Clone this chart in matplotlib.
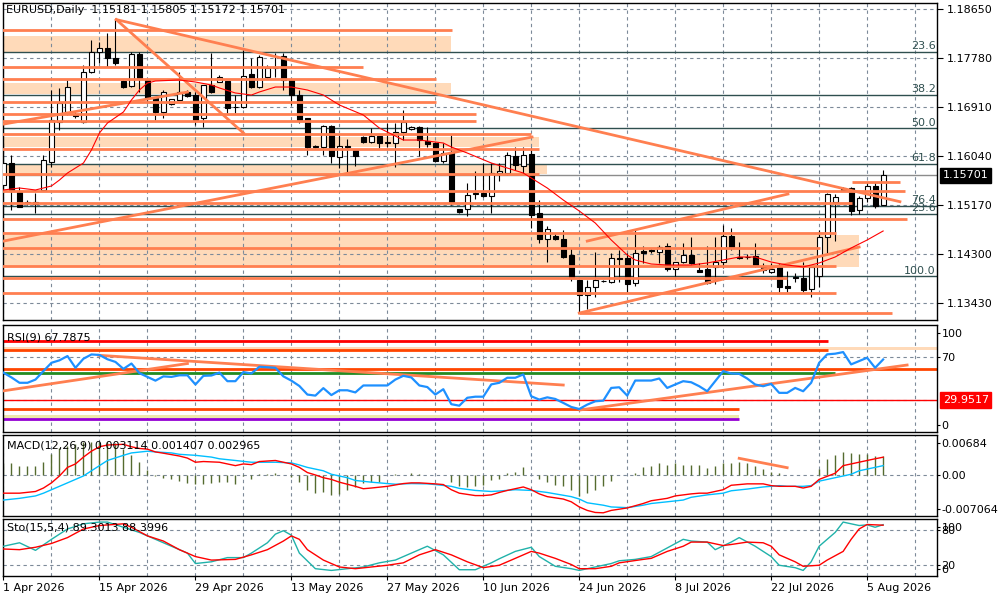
import matplotlib
matplotlib.use("Agg")
import matplotlib.pyplot as plt
from matplotlib.transforms import blended_transform_factory

plt.rcParams['font.family'] = ['DejaVu Sans']

# daily bars, index 0 = 1 Apr 2026 (six bars per week)
opens = [
    1.1553, 1.1592, 1.1540, 1.1521, 1.1520, 1.1544, 1.1594, 1.1665, 1.1683, 1.1678,
    1.1665, 1.1754, 1.1789, 1.1796, 1.1778, 1.1738, 1.1729, 1.1786, 1.1739, 1.1707,
    1.1683, 1.1697, 1.1704, 1.1718, 1.1713, 1.1672, 1.1731, 1.1736, 1.1738, 1.1692,
    1.1692, 1.1750, 1.1727, 1.1745, 1.1761, 1.1782, 1.1739, 1.1713, 1.1672, 1.1622,
    1.1620, 1.1658, 1.1603, 1.1622, 1.1615, 1.1638, 1.1629, 1.1640, 1.1630, 1.1627,
    1.1648, 1.1652, 1.1656, 1.1631, 1.1627, 1.1596, 1.1612, 1.1510, 1.1510, 1.1537,
    1.1539, 1.1534, 1.1575, 1.1574, 1.1604, 1.1587, 1.1608, 1.1503, 1.1457, 1.1462,
    1.1457, 1.1429, 1.1384, 1.1358, 1.1372, 1.1382, 1.1381, 1.1423, 1.1423, 1.1379,
    1.1436, 1.1436, 1.1434, 1.1445, 1.1404, 1.1416, 1.1429, 1.1402, 1.1404, 1.1407,
    1.1416, 1.1462, 1.1425, 1.1425, 1.1427, 1.1409, 1.1398, 1.1407, 1.1373, 1.1390,
    1.1388, 1.1368, 1.1391, 1.1461, 1.1523, 1.1547, 1.1547, 1.1509, 1.1530, 1.1551, 1.15181,
]
highs = [
    1.1628, 1.1606, 1.1549, 1.1526, 1.1538, 1.1606, 1.1722, 1.1725, 1.1739, 1.1683,
    1.1766, 1.1811, 1.1807, 1.1823, 1.1847, 1.1740, 1.1789, 1.1789, 1.1739, 1.1709,
    1.1722, 1.1706, 1.1754, 1.1722, 1.1718, 1.1731, 1.1787, 1.1748, 1.1738, 1.1713,
    1.1793, 1.1778, 1.1784, 1.1766, 1.1787, 1.1787, 1.1739, 1.1722, 1.1672, 1.1624,
    1.1659, 1.1659, 1.1642, 1.1635, 1.1615, 1.1640, 1.1654, 1.1640, 1.1663, 1.1663,
    1.1686, 1.1657, 1.1658, 1.1656, 1.1629, 1.1627, 1.1642, 1.1511, 1.1556, 1.1578,
    1.1592, 1.1592, 1.1592, 1.1611, 1.1620, 1.1620, 1.1620, 1.1526, 1.1480, 1.1467,
    1.1473, 1.1441, 1.1384, 1.1384, 1.1434, 1.1385, 1.1432, 1.1437, 1.1432, 1.1473,
    1.1445, 1.1441, 1.1446, 1.1450, 1.1416, 1.1450, 1.1461, 1.1414, 1.1445, 1.1461,
    1.1482, 1.1477, 1.1452, 1.1430, 1.1450, 1.1414, 1.1414, 1.1414, 1.1400, 1.1396,
    1.1416, 1.1407, 1.1473, 1.1539, 1.1537, 1.1549, 1.1549, 1.1533, 1.1559, 1.1559, 1.15805,
]
lows = [
    1.1553, 1.1509, 1.1514, 1.1517, 1.1503, 1.1544, 1.1585, 1.1651, 1.1677, 1.1672,
    1.1663, 1.1752, 1.1770, 1.1763, 1.1766, 1.1725, 1.1727, 1.1718, 1.1698, 1.1668,
    1.1672, 1.1695, 1.1704, 1.1709, 1.1659, 1.1656, 1.1716, 1.1736, 1.1681, 1.1681,
    1.1690, 1.1725, 1.1725, 1.1743, 1.1745, 1.1722, 1.1695, 1.1663, 1.1606, 1.1618,
    1.1606, 1.1592, 1.1583, 1.1574, 1.1587, 1.1627, 1.1627, 1.1618, 1.1620, 1.1585,
    1.1633, 1.1650, 1.1604, 1.1620, 1.1594, 1.1592, 1.1518, 1.1504, 1.1498, 1.1528,
    1.1532, 1.1503, 1.1560, 1.1571, 1.1580, 1.1574, 1.1477, 1.1450, 1.1416, 1.1455,
    1.1423, 1.1383, 1.1326, 1.1333, 1.1354, 1.1380, 1.1379, 1.1381, 1.1363, 1.1374,
    1.1414, 1.1432, 1.1414, 1.1400, 1.1391, 1.1414, 1.1412, 1.1398, 1.1377, 1.1377,
    1.1405, 1.1437, 1.1422, 1.1422, 1.1407, 1.1397, 1.1396, 1.1363, 1.1363, 1.1381,
    1.1363, 1.1354, 1.1372, 1.1432, 1.1453, 1.1544, 1.1500, 1.1502, 1.1523, 1.1513, 1.15172,
]
closes = [
    1.1592, 1.1544, 1.1514, 1.1522, 1.1522, 1.1597, 1.1668, 1.1699, 1.1727, 1.1676,
    1.1754, 1.1789, 1.1796, 1.1778, 1.1770, 1.1727, 1.1786, 1.1743, 1.1707, 1.1683,
    1.1718, 1.1706, 1.1718, 1.1711, 1.1668, 1.1731, 1.1718, 1.1745, 1.1690, 1.1691,
    1.1747, 1.1727, 1.1780, 1.1761, 1.1760, 1.1739, 1.1713, 1.1668, 1.1620, 1.1620,
    1.1658, 1.1604, 1.1622, 1.1620, 1.1604, 1.1629, 1.1640, 1.1627, 1.1628, 1.1648,
    1.1665, 1.1656, 1.1633, 1.1626, 1.1596, 1.1610, 1.1523, 1.1505, 1.1535, 1.1539,
    1.1534, 1.1574, 1.1578, 1.1606, 1.1588, 1.1606, 1.1500, 1.1457, 1.1475, 1.1457,
    1.1425, 1.1388, 1.1358, 1.1372, 1.1384, 1.1383, 1.1423, 1.1422, 1.1377, 1.1432,
    1.1432, 1.1437, 1.1443, 1.1404, 1.1416, 1.1429, 1.1414, 1.1398, 1.1379, 1.1416,
    1.1462, 1.1443, 1.1424, 1.1426, 1.1411, 1.1402, 1.1404, 1.1372, 1.1370, 1.1388,
    1.1367, 1.1407, 1.1461, 1.1537, 1.1532, 1.1545, 1.1507, 1.1530, 1.1551, 1.1516, 1.15701,
]

# moving average (bar index, price)
ma_idx = [0, 2, 4, 6, 7, 8, 10, 11, 12, 13, 15, 16, 17, 18, 19, 22, 24, 26, 27, 29,
          31, 32, 34, 36, 38, 40, 42, 45, 47, 50, 52, 55, 56, 58, 61, 63, 65, 68, 70, 72,
          74, 76, 78, 79, 81, 83, 86, 88, 90, 92, 94, 96, 98, 100, 102, 104, 106, 108, 110]
ma_val = [1.15442, 1.15477, 1.15442, 1.15513, 1.15619, 1.15743, 1.15921, 1.16152, 1.16454, 1.16631,
          1.16827, 1.17040, 1.17217, 1.17341, 1.17377, 1.17395, 1.17359, 1.17306, 1.17253, 1.17164,
          1.17128, 1.17182, 1.17270, 1.17270, 1.17217, 1.17128, 1.16951, 1.16773, 1.16542, 1.16329,
          1.16329, 1.16276, 1.16205, 1.16098, 1.15921, 1.15832, 1.15743, 1.15477, 1.15264, 1.15069,
          1.14856, 1.14554, 1.14288, 1.14199, 1.14128, 1.14110, 1.14110, 1.14146, 1.14199, 1.14252,
          1.14252, 1.14163, 1.14110, 1.14075, 1.14146, 1.14252, 1.14412, 1.14554, 1.14714]

price_ticks = [1.1865, 1.1778, 1.1691, 1.1604, 1.1517, 1.1430, 1.1343]
fib_levels = [1.17899, 1.17135, 1.16537, 1.15910, 1.15157, 1.15023, 1.13909]
fib_labels = ['23.6', '38.2', '50.0', '61.8', '76.4', '23.6', '100.0']

# horizontal levels: (price, start bar, end bar)
h_levels = [
    (1.18283, -1, 56.1), (1.17631, -1, 45.0), (1.17413, -1, 54.1), (1.16999, -1, 54.1),
    (1.16786, -1, 59.1), (1.16672, -1, 59.1), (1.16441, -1, 66.0), (1.16175, -1, 67.0),
    (1.15726, -1, 67.0), (1.15429, -1, 112.7), (1.15216, -1, 106.1), (1.14927, -1, 113.0),
    (1.14683, -1, 104.1), (1.14417, -1, 102.1), (1.14098, -1, 104.1), (1.13874, -1, 98.0),
    (1.13618, -1, 104.1), (1.13252, 72.0, 111.1), (1.15587, 106.1, 112.1),
]
# zones: (low price, high price, end bar)
zones = [
    (1.17892, 1.18176, 56.0), (1.17146, 1.17341, 56.0), (1.16210, 1.16388, 67.0),
    (1.15726, 1.15886, 68.0), (1.14075, 1.14643, 107.0),
]
# trend lines: (bar1, price1, bar2, price2)
trends = [
    (14.1, 1.18467, 112.1, 1.15234), (14.1, 1.18467, 30.0, 1.16454),
    (0.0, 1.16612, 23.0, 1.17180), (0.0, 1.14535, 66.1, 1.16382),
    (73.0, 1.14535, 98.1, 1.15370), (72.0, 1.13257, 107.0, 1.14429),
]

rsi = [
    55.4, 51.0, 46.0, 46.0, 49.0, 57.0, 64.7, 67.0, 71.0, 60.0,
    68.5, 72.5, 72.0, 68.0, 65.5, 59.0, 64.0, 55.0, 51.5, 48.0,
    52.0, 51.5, 53.0, 53.0, 44.4, 52.5, 52.8, 55.5, 47.5, 47.5,
    56.0, 54.7, 61.0, 60.5, 60.0, 52.0, 48.0, 43.0, 35.0, 34.0,
    41.0, 34.5, 39.0, 39.0, 37.0, 43.5, 43.5, 43.5, 43.5, 49.0,
    52.5, 51.0, 43.5, 42.0, 35.0, 40.0, 26.0, 24.6, 32.0, 33.0,
    33.0, 44.5, 46.0, 50.7, 50.7, 53.8, 33.4, 30.3, 32.4, 30.9,
    27.2, 23.4, 21.5, 25.6, 28.7, 29.3, 41.2, 41.8, 34.0, 48.1,
    48.1, 48.1, 50.0, 41.2, 44.4, 47.5, 46.5, 42.8, 38.1, 47.5,
    56.9, 54.7, 54.4, 50.0, 44.4, 42.8, 45.0, 36.6, 36.6, 41.2,
    38.1, 46.0, 64.7, 72.6, 73.2, 74.7, 63.2, 66.3, 69.4, 60.0, 67.79,
]
# rsi window objects: (value, end bar, colour, width)
rsi_levels = [
    (84.8, 103.1, '#ff0000', 2.0), (76.3, 103.1, '#ff4500', 2.0), (58.7, 120, '#ff4500', 2.0),
    (55.0, 104.0, '#228b22', 2.0), (29.95, 120, '#ff0000', 1.0), (21.1, 92.0, '#ff4500', 2.0),
    (11.7, 92.0, '#9400d3', 2.0),
]
rsi_zones = [(76.6, 79.8, 120, '#ffdab9'), (12.7, 15.9, 92.0, '#eee8aa')]
rsi_trends = [(0.0, 38.5, 23.0, 64.0), (11.9, 71.7, 70.0, 43.9), (72.1, 20.6, 113.0, 62.6)]

macd_hist = [
    0.00200, 0.00200, 0.00153, 0.00141, 0.00153, 0.00223, 0.00358, 0.00446, 0.00493, 0.00517,
    0.00552, 0.00563, 0.00563, 0.00552, 0.00534, 0.00434, 0.00329, 0.00211, 0.00082, -0.00023,
    -0.00059, -0.00082, -0.00106, -0.00141, -0.00153, -0.00153, -0.00141, -0.00123, -0.00129, -0.00153,
    -0.00023, -0.00082, 0.00012, 0.00006, 0.00035, -0.00012, -0.00035, -0.00129, -0.00258, -0.00317,
    -0.00305, -0.00346, -0.00329, -0.00270, -0.00217, -0.00141, -0.00129, -0.00129, -0.00012, 0.00012,
    0.00000, 0.00035, 0.00012, 0.00000, -0.00012, 0.00000, -0.00129, -0.00200, -0.00217, -0.00200,
    -0.00182, -0.00094, -0.00082, 0.00023, 0.00047, 0.00129, 0.00000, -0.00070, -0.00129, -0.00170,
    -0.00200, -0.00270, -0.00364, -0.00317, -0.00270, -0.00200, -0.00112, 0.00000, -0.00012, 0.00035,
    0.00123, 0.00153, 0.00200, 0.00170, 0.00200, 0.00170, 0.00170, 0.00170, 0.00106, 0.00153,
    0.00200, 0.00200, 0.00211, 0.00200, 0.00141, 0.00094, 0.00047, 0.00023, 0.00000, 0.00000,
    0.00000, 0.00000, 0.00094, 0.00270, 0.00340, 0.00387, 0.00370, 0.00358, 0.00358, 0.00317, 0.003114,
]
macd_red_idx = [0, 2, 4, 5, 6, 7, 8, 9, 10, 11, 12, 13, 15, 16, 17, 18, 19, 20, 22, 23,
                24, 25, 27, 28, 29, 30, 31, 32, 34, 35, 36, 37, 38, 39, 40, 41, 42, 44, 45, 46,
                48, 50, 51, 52, 54, 55, 56, 57, 59, 60, 61, 62, 63, 65, 66, 67, 68, 70, 71, 72,
                73, 74, 75, 76, 78, 80, 81, 83, 84, 86, 87, 88, 90, 91, 93, 95, 96, 97, 99, 100,
                101, 102, 104, 105, 106, 108, 109, 110]
macd_red = [-0.00317, -0.00317, -0.00288, -0.00229, -0.00141, -0.00023, 0.00123, 0.00182, 0.00299, 0.00400,
            0.00475, 0.00505, 0.00517, 0.00475, 0.00446, 0.00434, 0.00387, 0.00365, 0.00317, 0.00282,
            0.00211, 0.00223, 0.00211, 0.00182, 0.00153, 0.00182, 0.00170, 0.00223, 0.00241, 0.00211,
            0.00182, 0.00123, 0.00035, -0.00006, -0.00053, -0.00082, -0.00129, -0.00200, -0.00241, -0.00229,
            -0.00200, -0.00153, -0.00141, -0.00141, -0.00158, -0.00170, -0.00258, -0.00317, -0.00358, -0.00358,
            -0.00346, -0.00305, -0.00270, -0.00211, -0.00258, -0.00329, -0.00376, -0.00417, -0.00464, -0.00552,
            -0.00611, -0.00646, -0.00652, -0.00611, -0.00569, -0.00493, -0.00446, -0.00405, -0.00364, -0.00329,
            -0.00317, -0.00317, -0.00258, -0.00182, -0.00158, -0.00158, -0.00188, -0.00200, -0.00200, -0.00229,
            -0.00200, -0.00082, 0.00023, 0.00153, 0.00182, 0.00241, 0.00270, 0.00297]
macd_blue_idx = [0, 2, 4, 5, 6, 8, 10, 11, 12, 13, 15, 16, 18, 19, 21, 22, 24, 26, 27, 29,
                 31, 32, 34, 36, 37, 38, 40, 41, 43, 44, 46, 48, 49, 51, 53, 54, 56, 57, 59, 61,
                 62, 64, 66, 68, 69, 71, 72, 73, 75, 76, 78, 80, 81, 83, 85, 86, 88, 90, 91, 93,
                 95, 97, 98, 100, 101, 102, 104, 106, 107, 108, 110]
macd_blue = [-0.00434, -0.00405, -0.00364, -0.00317, -0.00258, -0.00141, -0.00023, 0.00065, 0.00153, 0.00241,
             0.00329, 0.00370, 0.00399, 0.00387, 0.00370, 0.00346, 0.00329, 0.00299, 0.00270, 0.00241,
             0.00211, 0.00211, 0.00211, 0.00200, 0.00164, 0.00123, 0.00065, 0.00006, -0.00053, -0.00100,
             -0.00129, -0.00153, -0.00164, -0.00153, -0.00158, -0.00170, -0.00200, -0.00235, -0.00270, -0.00288,
             -0.00280, -0.00258, -0.00270, -0.00305, -0.00329, -0.00376, -0.00417, -0.00481, -0.00522, -0.00552,
             -0.00564, -0.00522, -0.00493, -0.00464, -0.00434, -0.00387, -0.00346, -0.00317, -0.00276, -0.00247,
             -0.00211, -0.00188, -0.00200, -0.00200, -0.00188, -0.00112, -0.00053, 0.00006, 0.00065, 0.00094,
             0.00153]
macd_trend = (92.0, 0.00278, 98.0, 0.00118)

sto_main_idx = [0, 2, 4, 6, 8, 10, 12, 13, 15, 17, 19, 21, 23, 24, 26, 28, 30, 31, 33, 34,
                35, 36, 37, 39, 41, 43, 45, 47, 49, 51, 53, 55, 57, 59, 61, 62, 64, 66, 67, 69,
                71, 72, 74, 76, 77, 79, 81, 83, 85, 86, 88, 89, 91, 92, 94, 96, 97, 99, 100, 101,
                102, 104, 105, 106, 107, 108, 109, 110]
sto_main = [51.8, 57.8, 44.6, 63.8, 81.8, 90.8, 93.8, 93.8, 84.8, 75.8, 63.8, 51.8, 39.8, 21.7, 24.7,
            32.0, 32.0, 39.8, 57.8, 72.8, 78.8, 71.0, 39.8, 12.7, 9.7, 12.7, 15.7, 22.9, 27.7, 39.8,
            51.8, 36.8, 10.9, 10.9, 22.9, 30.0, 42.8, 50.0, 33.8, 16.9, 12.7, 9.7, 15.7, 21.7, 26.5,
            28.9, 33.8, 48.8, 63.8, 60.8, 59.0, 45.8, 59.0, 66.8, 51.8, 33.8, 18.7, 14.5, 9.7, 24.7,
            51.8, 75.8, 93.8, 90.8, 87.8, 89.0, 84.8, 89.3]
sto_sig_idx = [0, 2, 4, 6, 8, 10, 12, 15, 16, 18, 20, 22, 24, 26, 29, 31, 33, 35, 36, 37,
               38, 40, 42, 44, 46, 48, 50, 52, 54, 56, 58, 60, 62, 64, 66, 67, 69, 71, 72, 74,
               76, 77, 80, 81, 83, 85, 86, 88, 90, 91, 93, 95, 96, 97, 99, 100, 102, 103, 105, 106,
               107, 108, 110]
sto_sig = [47.0, 45.8, 50.0, 56.6, 66.8, 81.8, 87.8, 90.8, 84.8, 69.8, 60.8, 45.8, 33.8, 27.7, 28.9,
           36.8, 45.8, 60.8, 69.8, 63.8, 45.8, 27.7, 15.7, 12.7, 15.7, 18.7, 22.9, 36.8, 45.8, 36.8,
           24.7, 14.5, 18.7, 30.7, 42.8, 39.8, 30.7, 20.0, 12.7, 12.7, 16.9, 22.9, 28.9, 30.7, 42.8,
           51.8, 59.0, 59.0, 53.0, 54.8, 59.0, 57.8, 51.8, 36.8, 24.7, 16.9, 18.7, 27.7, 42.8, 63.8,
           81.8, 89.6, 88.4]

date_labels = ['1 Apr 2026', '15 Apr 2026', '29 Apr 2026', '13 May 2026', '27 May 2026',
               '10 Jun 2026', '24 Jun 2026', '8 Jul 2026', '22 Jul 2026', '5 Aug 2026']

CORAL = '#ff7f50'
PEACH = '#ffdab9'
FIB = '#2f4f4f'
GRID = dict(color='#7d8a99', lw=0.8, ls=(0, (3, 3)))
X_LO, X_HI = -0.1, 116.7

fig = plt.figure(figsize=(10, 6), dpi=100)
ax = fig.add_axes([0.0027, 0.4667, 0.934, 0.5288])
ax_rsi = fig.add_axes([0.0027, 0.28, 0.934, 0.1783])
ax_macd = fig.add_axes([0.0027, 0.14, 0.934, 0.1358])
ax_sto = fig.add_axes([0.0027, 0.04, 0.934, 0.0958])


def setup(a, ylo, yhi, tick_len=2, tick_pad=1.5):
    a.set_xlim(X_LO, X_HI)
    a.set_ylim(ylo, yhi)
    for s in a.spines.values():
        s.set_linewidth(1.0)
        s.set_color('black')
    for xv in range(0, 117, 6):
        a.axvline(xv, zorder=1, **GRID)
    a.tick_params(axis='x', bottom=False, labelbottom=False)
    a.tick_params(axis='y', left=False, labelleft=False, right=True, labelright=True,
                  length=tick_len, width=0.8, labelsize=8, pad=tick_pad, colors='black')


# ---- main price panel ----
setup(ax, 1.13134, 1.18767, tick_len=4, tick_pad=3)
ax.set_yticks(price_ticks)
ax.set_yticklabels(['%.5f' % p for p in price_ticks])
for p in price_ticks:
    ax.axhline(p, zorder=1, **GRID)

for lo, hi, xe in zones:
    ax.fill_between([X_LO - 1, xe], lo, hi, color=PEACH, lw=0, zorder=0.5)
for p, xs, xe in h_levels:
    ax.plot([xs, xe], [p, p], color=CORAL, lw=2, solid_capstyle='butt', zorder=5)
for x1, y1, x2, y2 in trends:
    ax.plot([x1, x2], [y1, y2], color=CORAL, lw=2, zorder=5)

blend = blended_transform_factory(ax.transAxes, ax.transData)
for lvl, lab in zip(fib_levels, fib_labels):
    ax.axhline(lvl, color=FIB, lw=1, zorder=2)
    ax.text(0.999, lvl + 0.0001, lab, transform=blend, ha='right', va='bottom',
            fontsize=8, color=FIB, zorder=7)

ax.axhline(closes[-1], color='#8c8c8c', lw=1, zorder=2)

xs = list(range(len(closes)))
ax.vlines(xs, lows, highs, color='black', lw=0.8, zorder=3)
for i in xs:
    o, c = opens[i], closes[i]
    h = c - o
    if abs(h) < 0.00004:
        h = 0.00004 if h >= 0 else -0.00004
    fc = 'white' if c >= o else 'black'
    ax.bar(i, h, bottom=o, width=0.62, facecolor=fc, edgecolor='black', lw=0.8, zorder=4)

ax.plot(ma_idx, ma_val, color='#ff0000', lw=0.8, zorder=6)

ax.text(0.004, 0.992, 'EURUSD,Daily  1.15181 1.15805 1.15172 1.15701', transform=ax.transAxes,
        ha='left', va='top', fontsize=8, color='black', zorder=8)
ax.text(1.0065, closes[-1], '%.5f' % closes[-1], transform=blend, ha='left', va='center',
        fontsize=8, color='white', clip_on=False,
        bbox=dict(facecolor='black', edgecolor='black', pad=1.8))

# ---- RSI panel ----
setup(ax_rsi, 0, 100)
ax_rsi.set_yticks([92.5, 70, 7])
ax_rsi.set_yticklabels(['100', '70', '0'])
for v in (70, 30):
    ax_rsi.axhline(v, zorder=1, **GRID)
for lo, hi, xe, col in rsi_zones:
    ax_rsi.fill_between([X_LO - 1, xe], lo, hi, color=col, lw=0, zorder=1.5)
for v, xe, col, w in rsi_levels:
    ax_rsi.plot([X_LO - 1, xe], [v, v], color=col, lw=w, solid_capstyle='butt', zorder=2)
for x1, y1, x2, y2 in rsi_trends:
    ax_rsi.plot([x1, x2], [y1, y2], color=CORAL, lw=2, zorder=3)
ax_rsi.plot(xs, rsi, color='#1e90ff', lw=1.6, zorder=4)
ax_rsi.text(0.005, 0.93, 'RSI(9) 67.7875', transform=ax_rsi.transAxes, ha='left', va='top',
            fontsize=8, color='black', zorder=6)
rblend = blended_transform_factory(ax_rsi.transAxes, ax_rsi.transData)
ax_rsi.text(1.0065, 29.95, '29.9517', transform=rblend, ha='left', va='center', fontsize=8,
            color='white', clip_on=False, bbox=dict(facecolor='#ff0000', edgecolor='#ff0000', pad=1.8))

# ---- MACD panel ----
setup(ax_macd, -0.007064, 0.00684)
ax_macd.set_yticks([0.00534, 0.0, -0.00582])
ax_macd.set_yticklabels(['0.00684', '0.00', '-0.007064'])
ax_macd.axhline(0, zorder=1, **GRID)
ax_macd.vlines(xs, 0, macd_hist, color='#556b2f', lw=1, zorder=2)
ax_macd.plot(macd_blue_idx, macd_blue, color='#00bfff', lw=1, zorder=3)
ax_macd.plot(macd_red_idx, macd_red, color='#ff0000', lw=1, zorder=3)
ax_macd.plot(macd_trend[0::2], macd_trend[1::2], color=CORAL, lw=2, zorder=4)
ax_macd.text(0.005, 0.93, 'MACD(12,26,9) 0.003114 0.001407 0.002965', transform=ax_macd.transAxes,
             ha='left', va='top', fontsize=8, color='black', zorder=6)

# ---- Stochastic panel ----
setup(ax_sto, 0, 100)
ax_sto.set_yticks([86, 80, 20, 12])
ax_sto.set_yticklabels(['100', '80', '20', '0'])
for v in (80, 20):
    ax_sto.axhline(v, zorder=1, **GRID)
ax_sto.plot(sto_main_idx, sto_main, color='#20b2aa', lw=1, zorder=3)
ax_sto.plot(sto_sig_idx, sto_sig, color='#ff0000', lw=1, zorder=3)
ax_sto.text(0.005, 0.93, 'Sto(15,5,4) 89.3013 88.3996', transform=ax_sto.transAxes,
            ha='left', va='top', fontsize=8, color='black', zorder=6)
ax_sto.set_xticks(list(range(0, 117, 12))[:len(date_labels)])
ax_sto.set_xticklabels(date_labels, ha='left')
ax_sto.tick_params(axis='x', bottom=True, labelbottom=True, length=3, width=0.8,
                   labelsize=8, pad=2, colors='black')

fig.savefig('out.png', dpi=100, facecolor='white')
